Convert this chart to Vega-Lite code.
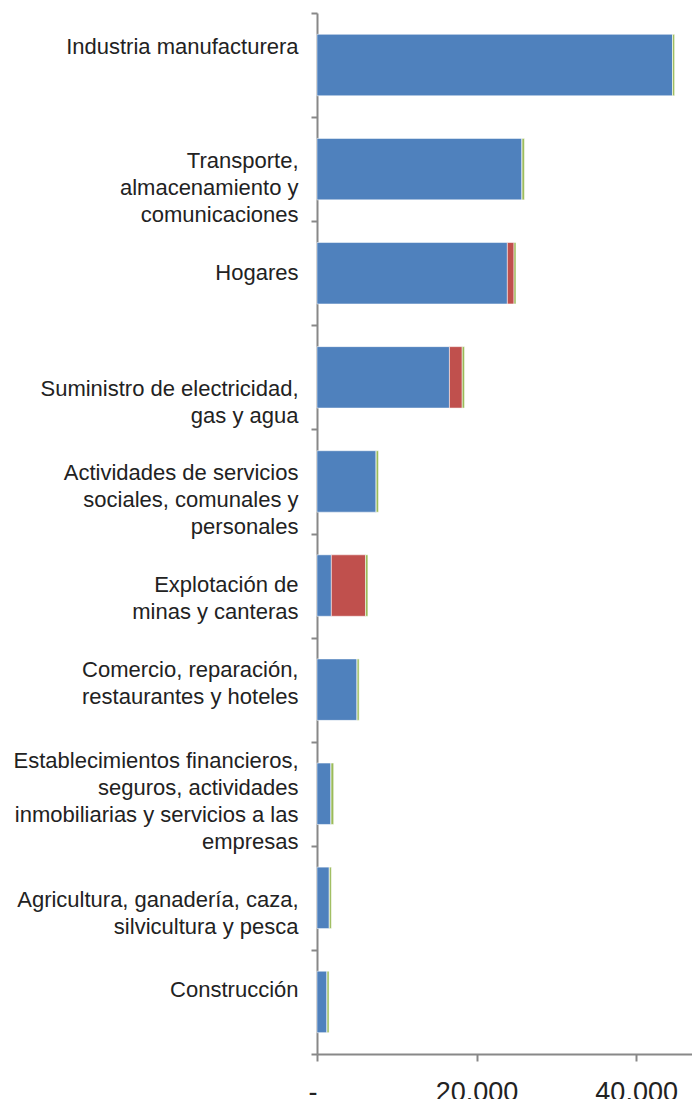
{
  "$schema": "https://vega.github.io/schema/vega-lite/v6.json",
  "autosize": "none",
  "width": 375,
  "height": 1041,
  "padding": {"left": 317, "top": 13, "right": 0, "bottom": 45},
  "background": "white",
  "config": {
    "view": {"stroke": null},
    "font": "Liberation Sans"
  },
  "data": {
    "values": [
      {"sector": "Industria manufacturera", "serie": "Serie 1", "orden": 1, "valor": 44570},
      {"sector": "Industria manufacturera", "serie": "Serie 2", "orden": 2, "valor": 0},
      {"sector": "Industria manufacturera", "serie": "Serie 3", "orden": 3, "valor": 250},
      {"sector": "Transporte,|almacenamiento y|comunicaciones", "serie": "Serie 1", "orden": 1, "valor": 25700},
      {"sector": "Transporte,|almacenamiento y|comunicaciones", "serie": "Serie 2", "orden": 2, "valor": 0},
      {"sector": "Transporte,|almacenamiento y|comunicaciones", "serie": "Serie 3", "orden": 3, "valor": 300},
      {"sector": "Hogares", "serie": "Serie 1", "orden": 1, "valor": 23860},
      {"sector": "Hogares", "serie": "Serie 2", "orden": 2, "valor": 830},
      {"sector": "Hogares", "serie": "Serie 3", "orden": 3, "valor": 250},
      {"sector": "Suministro de electricidad,|gas y agua", "serie": "Serie 1", "orden": 1, "valor": 16600},
      {"sector": "Suministro de electricidad,|gas y agua", "serie": "Serie 2", "orden": 2, "valor": 1600},
      {"sector": "Suministro de electricidad,|gas y agua", "serie": "Serie 3", "orden": 3, "valor": 290},
      {"sector": "Actividades de servicios|sociales, comunales y|personales", "serie": "Serie 1", "orden": 1, "valor": 7420},
      {"sector": "Actividades de servicios|sociales, comunales y|personales", "serie": "Serie 2", "orden": 2, "valor": 0},
      {"sector": "Actividades de servicios|sociales, comunales y|personales", "serie": "Serie 3", "orden": 3, "valor": 290},
      {"sector": "Explotación de|minas y canteras", "serie": "Serie 1", "orden": 1, "valor": 1800},
      {"sector": "Explotación de|minas y canteras", "serie": "Serie 2", "orden": 2, "valor": 4280},
      {"sector": "Explotación de|minas y canteras", "serie": "Serie 3", "orden": 3, "valor": 300},
      {"sector": "Comercio, reparación,|restaurantes y hoteles", "serie": "Serie 1", "orden": 1, "valor": 5030},
      {"sector": "Comercio, reparación,|restaurantes y hoteles", "serie": "Serie 2", "orden": 2, "valor": 0},
      {"sector": "Comercio, reparación,|restaurantes y hoteles", "serie": "Serie 3", "orden": 3, "valor": 250},
      {"sector": "Establecimientos financieros,|seguros, actividades|inmobiliarias y servicios a las|empresas", "serie": "Serie 1", "orden": 1, "valor": 1760},
      {"sector": "Establecimientos financieros,|seguros, actividades|inmobiliarias y servicios a las|empresas", "serie": "Serie 2", "orden": 2, "valor": 0},
      {"sector": "Establecimientos financieros,|seguros, actividades|inmobiliarias y servicios a las|empresas", "serie": "Serie 3", "orden": 3, "valor": 330},
      {"sector": "Agricultura, ganadería, caza,|silvicultura y pesca", "serie": "Serie 1", "orden": 1, "valor": 1550},
      {"sector": "Agricultura, ganadería, caza,|silvicultura y pesca", "serie": "Serie 2", "orden": 2, "valor": 0},
      {"sector": "Agricultura, ganadería, caza,|silvicultura y pesca", "serie": "Serie 3", "orden": 3, "valor": 250},
      {"sector": "Construcción", "serie": "Serie 1", "orden": 1, "valor": 1260},
      {"sector": "Construcción", "serie": "Serie 2", "orden": 2, "valor": 0},
      {"sector": "Construcción", "serie": "Serie 3", "orden": 3, "valor": 250}
    ]
  },
  "mark": {
    "type": "bar",
    "height": {"band": 0.59},
    "stroke": "#ffffff",
    "strokeWidth": 1,
    "strokeOpacity": 0.5
  },
  "encoding": {
    "y": {
      "field": "sector",
      "type": "nominal",
      "sort": null,
      "scale": {"paddingInner": 0, "paddingOuter": 0},
      "axis": {
        "title": null,
        "tickBand": "extent",
        "domainColor": "#888888",
        "domainWidth": 2,
        "tickColor": "#888888",
        "tickWidth": 2,
        "tickSize": 6,
        "labelPadding": 13,
        "labelFontSize": 22,
        "labelFont": "Liberation Sans",
        "labelColor": "#222222",
        "labelLineHeight": 27,
        "labelLimit": 400,
        "labelOffset": {
          "condition": [
            {"test": "datum.value == 'Industria manufacturera'", "value": -19},
            {"test": "datum.value == 'Transporte,|almacenamiento y|comunicaciones'", "value": -9},
            {"test": "datum.value == 'Hogares'", "value": -1},
            {"test": "datum.value == 'Suministro de electricidad,|gas y agua'", "value": 11},
            {"test": "datum.value == 'Actividades de servicios|sociales, comunales y|personales'", "value": -9},
            {"test": "datum.value == 'Explotación de|minas y canteras'", "value": -1},
            {"test": "datum.value == 'Comercio, reparación,|restaurantes y hoteles'", "value": -20},
            {"test": "datum.value == 'Establecimientos financieros,|seguros, actividades|inmobiliarias y servicios a las|empresas'", "value": -33},
            {"test": "datum.value == 'Agricultura, ganadería, caza,|silvicultura y pesca'", "value": 2},
            {"test": "datum.value == 'Construcción'", "value": -12}
          ],
          "value": 0
        },
        "labelExpr": "split(datum.label, '|')"
      }
    },
    "x": {
      "field": "valor",
      "type": "quantitative",
      "stack": "zero",
      "scale": {"domain": [0, 47000], "nice": false, "zero": true},
      "axis": {
        "title": null,
        "values": [0, 20000, 40000],
        "grid": false,
        "domainColor": "#888888",
        "domainWidth": 2,
        "tickColor": "#888888",
        "tickWidth": 2,
        "tickSize": 7,
        "labelPadding": 18,
        "labelFontSize": 27,
        "labelFont": "Liberation Sans",
        "labelColor": "#222222",
        "labelDx": -4,
        "labelAlign": {"condition": {"test": "datum.value == 0", "value": "right"}, "value": "center"},
        "labelFlush": false,
        "labelOverlap": false,
        "labelExpr": "datum.value == 0 ? '-' : replace(format(datum.value, ','), ',', '.')"
      }
    },
    "color": {
      "field": "serie",
      "type": "nominal",
      "scale": {"domain": ["Serie 1", "Serie 2", "Serie 3"], "range": ["#4F81BD", "#C0504D", "#9BBB59"]},
      "legend": null
    },
    "order": {"field": "orden", "type": "quantitative"}
  }
}
